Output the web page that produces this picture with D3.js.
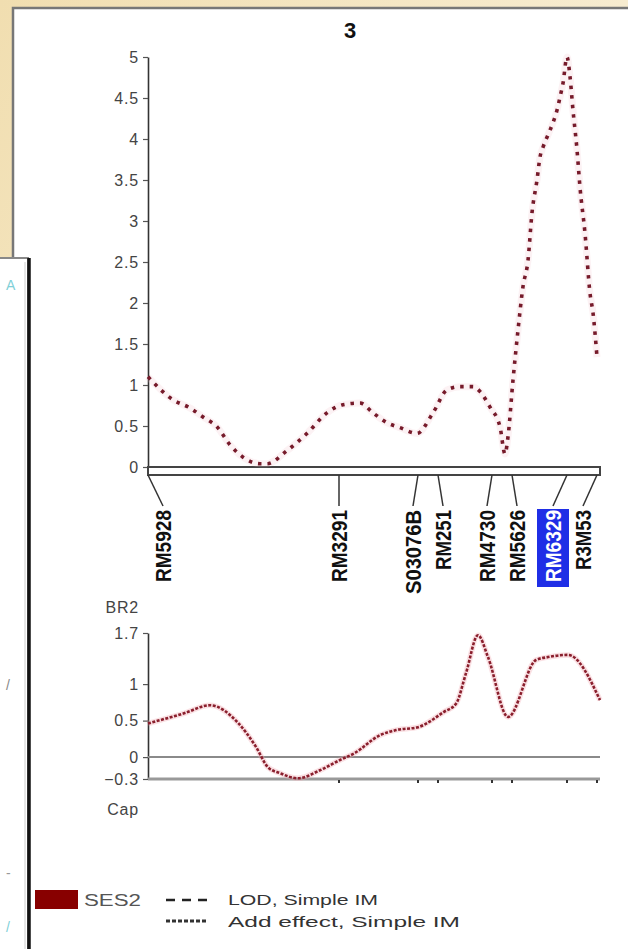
<!DOCTYPE html>
<html>
<head>
<meta charset="utf-8">
<title>QTL chromosome 3</title>
<script src="https://cdn.jsdelivr.net/npm/d3@7"></script>
<style>
  body { margin: 0; background: #f3e5c0; }
  svg { display: block; font-family: Arial, "Liberation Sans", sans-serif; }
</style>
</head>
<body>
<script>
// chromosome 3 markers (cM)
const markerNames = ["RM5928", "RM3291", "S03076B", "RM251", "RM4730", "RM5626", "RM6329", "R3M53"];
const markerPos = [0, 95.5, 135, 145, 172, 182, 209.5, 224.5];
const chromLength = 226;
const highlighted = "RM6329";

// LOD profile
const lodPos = [0, 12.5, 21, 27.5, 34.5, 41, 47.5, 56, 59.5, 69.5, 79.5, 89.5, 97.5, 106, 112.5, 119.5, 126, 134.5,
  142.5, 149.5, 156, 162.5, 166, 171, 176, 178.5, 180, 182.5, 185, 187.5, 190, 192, 194.5, 196, 197.5, 200, 202.5,
  204.5, 206, 207.5, 209.5, 211, 212.5, 214.5, 216, 218.5, 221, 222.5, 224.5];
const lodVal = [1.1, 0.82, 0.72, 0.61, 0.49, 0.27, 0.12, 0.04, 0.04, 0.2, 0.41, 0.66, 0.76, 0.78, 0.66, 0.54, 0.48, 0.41,
  0.66, 0.94, 0.98, 0.98, 0.92, 0.73, 0.49, 0.16, 0.37, 1.06, 1.67, 2.2, 2.52, 3.1, 3.5, 3.78, 3.9, 4.05, 4.2,
  4.35, 4.51, 4.68, 5.0, 4.76, 4.35, 3.87, 3.41, 2.85, 2.12, 1.88, 1.34];

// additive effect profile
const addPos = [0, 18, 31, 45, 54, 60, 66, 75, 86, 96, 103, 116, 124, 135, 148, 154, 159, 165, 170, 180, 194, 200, 210, 226];
const addVal = [0.46, 0.6, 0.71, 0.47, 0.14, -0.14, -0.22, -0.29, -0.18, -0.04, 0.05, 0.3, 0.37, 0.41, 0.62, 0.73, 1.15,
  1.67, 1.37, 0.55, 1.33, 1.37, 1.4, 0.78];

const lodTicks = [0, 0.5, 1, 1.5, 2, 2.5, 3, 3.5, 4, 4.5, 5];
const addTicks = [1.7, 1, 0.5, 0, -0.3];
const chartTitle = "3";
const addTop = "BR2";
const addBottom = "Cap";
const traitName = "SES2";
const legendLabels = ["LOD, Simple IM", "Add effect, Simple IM"];

const width = 628;
const height = 949;
const lodColor = "#761a2a";
const addColor = "#8a1f2d";

const svg = d3.select("body").append("svg")
    .attr("width", width)
    .attr("height", height);

// slide background
const defs = svg.append("defs");
const grad = defs.append("linearGradient").attr("id", "beige")
    .attr("x1", 0).attr("y1", 0).attr("x2", 1).attr("y2", 1);
grad.append("stop").attr("offset", "0%").attr("stop-color", "#f1deb0");
grad.append("stop").attr("offset", "50%").attr("stop-color", "#f7ecd0");
grad.append("stop").attr("offset", "100%").attr("stop-color", "#eedcad");
svg.append("rect").attr("width", width).attr("height", height).attr("fill", "url(#beige)");

// main chart window
svg.append("rect")
    .attr("x", 13).attr("y", 8)
    .attr("width", width).attr("height", height)
    .attr("fill", "#fff")
    .attr("stroke", "#777").attr("stroke-width", 2.5);

const x = d3.scaleLinear().domain([0, chromLength]).range([148, 600]);
const yLod = d3.scaleLinear().domain([0, 5]).range([467, 57]);
const yAdd = d3.scaleLinear().domain([-0.3, 1.7]).range([779, 633]);

svg.append("text")
    .attr("x", 350).attr("y", 38)
    .attr("text-anchor", "middle")
    .attr("font-size", 22).attr("font-weight", "bold")
    .attr("fill", "#111")
    .text(chartTitle);

function styleAxis(g) {
  g.select(".domain").attr("stroke", "#333").attr("stroke-width", 1.6);
  g.selectAll(".tick line").attr("stroke", "#555").attr("stroke-width", 1.2);
  g.selectAll(".tick text")
      .attr("font-size", 16).attr("fill", "#444")
      .attr("font-family", "Arial, 'Liberation Sans', sans-serif")
      .attr("letter-spacing", 0.8);
}

// LOD axis
svg.append("g")
    .attr("transform", `translate(${x(0)},0)`)
    .call(d3.axisLeft(yLod).tickValues(lodTicks).tickSize(5).tickSizeOuter(0).tickFormat(d3.format("")).tickPadding(4))
    .call(styleAxis);

// chromosome bar
svg.append("rect")
    .attr("x", x(0)).attr("y", yLod(0))
    .attr("width", x(chromLength) - x(0)).attr("height", 8)
    .attr("fill", "#fff")
    .attr("stroke", "#444").attr("stroke-width", 2);

// spread labels so they don't overlap
const gap = 30;
const lo = x(0) + 15, hi = x(chromLength) - 17;
let labelX = markerPos.map(p => Math.max(lo, Math.min(hi, x(p))));
for (let it = 0; it < 200; it++) {
  for (let i = 1; i < labelX.length; i++) {
    const d = labelX[i] - labelX[i - 1];
    if (d < gap) {
      const s = (gap - d) / 2;
      labelX[i - 1] -= s;
      labelX[i] += s;
    }
  }
  labelX = labelX.map(v => Math.max(lo, Math.min(hi, v)));
}

const barBottom = yLod(0) + 8;
const labelTop = 510;

svg.append("g").selectAll("line")
  .data(markerNames)
  .join("line")
    .attr("x1", (d, i) => x(markerPos[i]))
    .attr("y1", barBottom)
    .attr("x2", (d, i) => labelX[i])
    .attr("y2", labelTop - 4)
    .attr("stroke", "#333")
    .attr("stroke-width", 1.5);

const hi_i = markerNames.indexOf(highlighted);
svg.append("rect")
    .attr("x", labelX[hi_i] - 16).attr("y", labelTop - 1)
    .attr("width", 32).attr("height", highlighted.length * 12 + 6)
    .attr("fill", "#1f2ee6");

svg.append("g").selectAll("text")
  .data(markerNames)
  .join("text")
    .attr("transform", (d, i) => `translate(${labelX[i]},${labelTop}) rotate(-90)`)
    .attr("text-anchor", "end")
    .attr("dominant-baseline", "central")
    .attr("font-size", 22)
    .attr("font-weight", "bold")
    .attr("textLength", d => d.length * 12)
    .attr("lengthAdjust", "spacingAndGlyphs")
    .attr("fill", d => d === highlighted ? "#fff" : "#111")
    .text(d => d);

// LOD curve
const lodLine = d3.line()
    .x(d => x(d[0]))
    .y(d => yLod(d[1]))
    .curve(d3.curveMonotoneX);
const lodData = lodPos.map((p, i) => [p, lodVal[i]]);
svg.append("path")
    .attr("d", lodLine(lodData))
    .attr("fill", "none")
    .attr("stroke", "#f2c0c8").attr("stroke-opacity", 0.2)
    .attr("stroke-width", 7);
svg.append("path")
    .attr("d", lodLine(lodData))
    .attr("fill", "none")
    .attr("stroke", lodColor)
    .attr("stroke-width", 3.6)
    .attr("stroke-dasharray", "3.5,6");

// additive effect panel
svg.append("g")
    .attr("transform", `translate(${x(0)},0)`)
    .call(d3.axisLeft(yAdd).tickValues(addTicks).tickSize(5).tickSizeOuter(0).tickFormat(d3.format("")).tickPadding(4))
    .call(styleAxis);

svg.append("line")
    .attr("x1", x(0)).attr("x2", x(chromLength))
    .attr("y1", yAdd(0)).attr("y2", yAdd(0))
    .attr("stroke", "#8a8a8a").attr("stroke-width", 2);
svg.append("line")
    .attr("x1", x(0)).attr("x2", x(chromLength))
    .attr("y1", yAdd(-0.3)).attr("y2", yAdd(-0.3))
    .attr("stroke", "#999").attr("stroke-width", 3);

svg.append("g").selectAll("line")
  .data(markerPos.slice(1))
  .join("line")
    .attr("x1", d => x(d)).attr("x2", d => x(d))
    .attr("y1", yAdd(-0.3) + 1).attr("y2", yAdd(-0.3) + 4)
    .attr("stroke", "#333").attr("stroke-width", 2);

svg.append("text")
    .attr("x", 139).attr("y", 613)
    .attr("text-anchor", "end")
    .attr("font-size", 16).attr("letter-spacing", 0.8).attr("fill", "#444")
    .text(addTop);
svg.append("text")
    .attr("x", 139).attr("y", 815)
    .attr("text-anchor", "end")
    .attr("font-size", 16).attr("letter-spacing", 0.8).attr("fill", "#444")
    .text(addBottom);

const addLine = d3.line()
    .x(d => x(d[0]))
    .y(d => yAdd(d[1]))
    .curve(d3.curveMonotoneX);
const addData = addPos.map((p, i) => [p, addVal[i]]);
svg.append("path")
    .attr("d", addLine(addData))
    .attr("fill", "none")
    .attr("stroke", "#f0a8b2").attr("stroke-opacity", 0.35)
    .attr("stroke-width", 5.5);
svg.append("path")
    .attr("d", addLine(addData))
    .attr("fill", "none")
    .attr("stroke", addColor)
    .attr("stroke-width", 2.6)
    .attr("stroke-dasharray", "3,1.5");

// legend
svg.append("rect")
    .attr("x", 35).attr("y", 890)
    .attr("width", 43).attr("height", 19)
    .attr("fill", "#880000");
svg.append("text")
    .attr("x", 84).attr("y", 906)
    .attr("font-size", 16).attr("fill", "#555")
    .attr("textLength", 57).attr("lengthAdjust", "spacingAndGlyphs")
    .text(traitName);

svg.append("line")
    .attr("x1", 166).attr("x2", 208).attr("y1", 900).attr("y2", 900)
    .attr("stroke", "#222").attr("stroke-width", 2.5)
    .attr("stroke-dasharray", "9,7");
svg.append("line")
    .attr("x1", 166).attr("x2", 208).attr("y1", 921).attr("y2", 921)
    .attr("stroke", "#333").attr("stroke-width", 3)
    .attr("stroke-dasharray", "4,2");

svg.append("g").selectAll("text")
  .data(legendLabels)
  .join("text")
    .attr("x", 228)
    .attr("y", (d, i) => 905 + i * 22)
    .attr("font-size", 15)
    .attr("fill", "#333")
    .attr("textLength", (d, i) => i === 0 ? 150 : 232)
    .attr("lengthAdjust", "spacingAndGlyphs")
    .text(d => d);

// overlapping window on the left
const side = svg.append("g");
side.append("rect")
    .attr("x", -2).attr("y", 258)
    .attr("width", 30).attr("height", height)
    .attr("fill", "#fff")
    .attr("stroke", "#888").attr("stroke-width", 2);
side.append("line")
    .attr("x1", 29).attr("x2", 29).attr("y1", 258).attr("y2", height)
    .attr("stroke", "#111").attr("stroke-width", 3.5);
side.append("line")
    .attr("x1", 25).attr("x2", 25).attr("y1", 262).attr("y2", height)
    .attr("stroke", "#ccc").attr("stroke-width", 1);
const bits = [["A", 290, "#7fd0d8"], ["/", 690, "#888"], ["-", 878, "#999"], ["/", 932, "#7fd0d8"]];
side.selectAll("text.bit")
  .data(bits)
  .join("text")
    .attr("class", "bit")
    .attr("x", 6).attr("y", d => d[1])
    .attr("font-size", 14)
    .attr("fill", d => d[2])
    .text(d => d[0]);
</script>
</body>
</html>
